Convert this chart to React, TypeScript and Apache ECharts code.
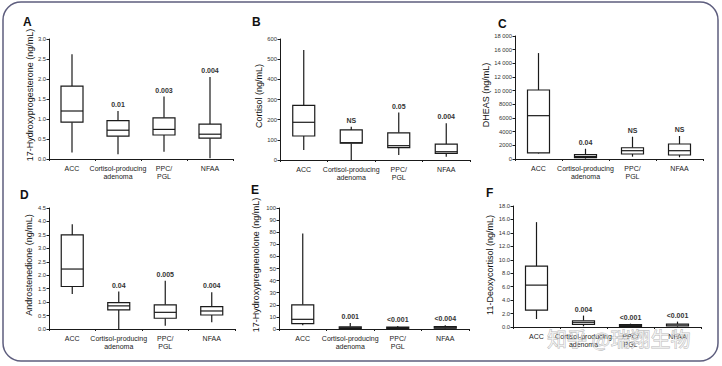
import React, { useEffect, useRef } from "react";
import * as echarts from "echarts";

const FONT = "'Liberation Sans', Arial, sans-serif";

const categories = ["ACC", "Cortisol-producing\nadenoma", "PPC/\nPGL", "NFAA"];

// [min, Q1, median, Q3, max]
const hydroxyprogesterone = [
  [0.16, 0.92, 1.2, 1.82, 2.62],
  [0.12, 0.57, 0.72, 0.96, 1.2],
  [0.18, 0.6, 0.74, 1.03, 1.56],
  [0.02, 0.52, 0.62, 0.87, 2.05],
];
const hydroxyprogesteroneP = ["", "0.01", "0.003", "0.004"];

const cortisol = [
  [50, 119, 187, 271, 545],
  [0, 83, 86, 149, 165],
  [25, 61, 71, 135, 235],
  [16, 33, 41, 79, 182],
];
const cortisolP = ["", "NS", "0.05", "0.004"];

const dheas = [
  [800, 900, 6340, 10100, 15500],
  [50, 200, 350, 650, 1500],
  [340, 730, 1215, 1650, 3260],
  [250, 585, 1215, 2195, 3365],
];
const dheasP = ["", "0.04", "NS", "NS"];

const androstenedione = [
  [1.3, 1.58, 2.23, 3.5, 3.9],
  [0.0, 0.71, 0.86, 0.98, 1.39],
  [0.12, 0.4, 0.62, 0.9, 1.79],
  [0.25, 0.52, 0.67, 0.83, 1.37],
];
const androstenedioneP = ["", "0.04", "0.005", "0.004"];

const hydroxypregnenolone = [
  [3, 4.5, 8, 20, 79],
  [0.2, 0.5, 0.9, 1.8, 5],
  [0.2, 0.5, 0.8, 1.6, 2.5],
  [0.3, 0.6, 1.0, 1.9, 3],
];
const hydroxypregnenoloneP = ["", "0.001", "<0.001", "<0.004"];

const deoxycortisol = [
  [1.19, 2.52, 6.23, 9.05, 15.6],
  [0.1, 0.4, 0.7, 0.93, 1.7],
  [0.05, 0.1, 0.2, 0.35, 0.5],
  [0.05, 0.15, 0.3, 0.45, 0.8],
];
const deoxycortisolP = ["", "0.004", "<0.001", "<0.001"];

const panelLetters = ["A", "B", "C", "D", "E", "F"];
const yNames = [
  "17-Hydroxyprogesterone (ng/mL)",
  "Cortisol (ng/mL)",
  "DHEAS (ng/mL)",
  "Androstenedione (ng/mL)",
  "17-Hydroxypregnenolone (ng/mL)",
  "11-Deoxycortisol (ng/mL)",
];

const panels = [
  { data: hydroxyprogesterone, p: hydroxyprogesteroneP, max: 3, interval: 0.5, dec: 1 },
  { data: cortisol, p: cortisolP, max: 600, interval: 100, dec: 0 },
  { data: dheas, p: dheasP, max: 18000, interval: 2000, dec: -1 },
  { data: androstenedione, p: androstenedioneP, max: 4.5, interval: 0.5, dec: 1 },
  { data: hydroxypregnenolone, p: hydroxypregnenoloneP, max: 100, interval: 10, dec: 0 },
  { data: deoxycortisol, p: deoxycortisolP, max: 18, interval: 2, dec: 1 },
];

// layout
const grids = [
  { left: 49, top: 39, width: 184, height: 120 },
  { left: 280, top: 39, width: 190, height: 121 },
  { left: 515, top: 36, width: 188, height: 123 },
  { left: 49, top: 208, width: 186, height: 121 },
  { left: 279, top: 208, width: 190, height: 121 },
  { left: 513, top: 206, width: 188, height: 121 },
];
const nameGaps = [10, 12, 16, 16, 19, 15];
const nameShift = [8, 7, 5, 7, 7, 3];
const letterPos = [
  [23, 22], [252, 22], [498, 24], [20, 195], [251, 190], [486, 193],
];

const INK = "#1a1a1a";

function fmt(dec: number) {
  return (v: number) => {
    if (dec === -1) {
      if (v >= 10000) return `${Math.floor(v / 1000)} 000`;
      return String(v);
    }
    return v.toFixed(dec);
  };
}

export default function App() {
  const ref = useRef<HTMLDivElement>(null);
  useEffect(() => {
    if (!ref.current) return;
    const chart = echarts.init(ref.current, undefined, { renderer: "svg" });

    const series = panels.map((pn, idx) => ({
      type: "custom",
      xAxisIndex: idx,
      yAxisIndex: idx,
      data: pn.data.map((d, i) => [i, ...d]),
      encode: { x: 0, y: [1, 2, 3, 4, 5] },
      renderItem: (params: any, api: any) => {
        const i = api.value(0);
        const mn = api.coord([i, api.value(1)]);
        const q1 = api.coord([i, api.value(2)]);
        const md = api.coord([i, api.value(3)]);
        const q3 = api.coord([i, api.value(4)]);
        const mx = api.coord([i, api.value(5)]);
        const cx = mn[0];
        const hw = 11;
        const st = { stroke: INK, lineWidth: 1.2, fill: "none" };
        return {
          type: "group",
          children: [
            { type: "line", shape: { x1: cx, y1: mx[1], x2: cx, y2: q3[1] }, style: st },
            { type: "line", shape: { x1: cx, y1: q1[1], x2: cx, y2: mn[1] }, style: st },
            {
              type: "rect",
              shape: { x: cx - hw, y: q3[1], width: 2 * hw, height: Math.max(q1[1] - q3[1], 0.5) },
              style: { ...st, fill: "#fff" },
            },
            { type: "line", shape: { x1: cx - hw, y1: md[1], x2: cx + hw, y2: md[1] }, style: st },
            {
              type: "text",
              style: {
                text: pn.p[params.dataIndex],
                x: cx,
                y: mx[1] - 3,
                align: "center",
                verticalAlign: "bottom",
                fontSize: 7,
                fontWeight: "bold",
                fontFamily: FONT,
                fill: "#333",
              },
            },
          ],
        };
      },
    }));

    const option: any = {
      animation: false,
      backgroundColor: "#fff",
      grid: grids.map((g) => ({ ...g, containLabel: false })),
      xAxis: grids.map((_, idx) => ({
        type: "category",
        gridIndex: idx,
        data: categories,
        boundaryGap: true,
        axisLine: { show: true, lineStyle: { color: INK, width: 1 } },
        axisTick: { show: true, length: 2, lineStyle: { color: INK } },
        axisLabel: {
          interval: 0,
          fontSize: 7,
          lineHeight: 8,
          margin: 5,
          color: INK,
          fontFamily: FONT,
        },
        splitLine: { show: false },
      })),
      yAxis: panels.map((pn, idx) => ({
        type: "value",
        gridIndex: idx,
        min: 0,
        max: pn.max,
        interval: pn.interval,
        name: yNames[idx],
        nameLocation: "middle",
        nameGap: nameGaps[idx],
        nameTextStyle: {
          fontSize: 9,
          color: "#111",
          fontFamily: FONT,
          padding: [0, 0, 0, nameShift[idx]],
        },
        axisLine: { show: true, lineStyle: { color: INK, width: 1 } },
        axisTick: { show: true, length: 2.5, lineStyle: { color: INK } },
        axisLabel: {
          fontSize: 5.8,
          margin: 3,
          color: "#333",
          fontFamily: FONT,
          formatter: fmt(pn.dec),
        },
        splitLine: { show: false },
      })),
      series,
      graphic: [
        {
          type: "rect",
          z: -1,
          shape: { x: 3, y: 2, width: 715, height: 359, r: 18 },
          style: { fill: "none", stroke: "#5e5e7e", lineWidth: 1.5 },
        },
        ...panelLetters.map((l, i) => ({
          type: "text",
          x: letterPos[i][0],
          y: letterPos[i][1],
          style: {
            text: l,
            fontSize: 12,
            fontWeight: "bold",
            fontFamily: FONT,
            fill: "#111",
            verticalAlign: "middle",
          },
        })),
        {
          type: "text",
          x: 547,
          y: 338,
          z: 100,
          style: {
            text: "知乎 @瑞翔生物",
            fontSize: 20,
            fontFamily: "'Noto Sans CJK SC', sans-serif",
            fill: "rgba(255,255,255,0.55)",
            stroke: "rgba(120,120,120,0.55)",
            lineWidth: 0.8,
            verticalAlign: "middle",
          },
        },
      ],
    };
    chart.setOption(option);
    return () => chart.dispose();
  }, []);
  return <div ref={ref} style={{ width: 722, height: 366, position: "absolute", left: 0, top: 0 }} />;
}
